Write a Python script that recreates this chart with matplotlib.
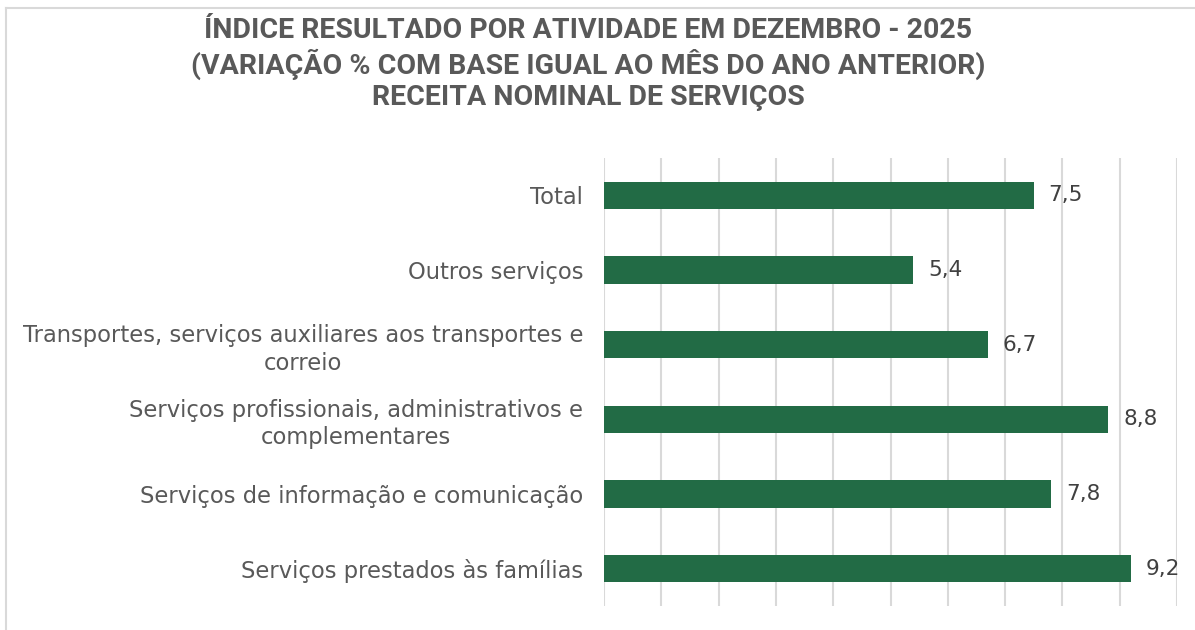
import matplotlib
matplotlib.use("Agg")
import matplotlib.pyplot as plt
from matplotlib.lines import Line2D

categories = [
    "Total",
    "Outros serviços",
    "Transportes, serviços auxiliares aos transportes e\ncorreio",
    "Serviços profissionais, administrativos e\ncomplementares",
    "Serviços de informação e comunicação",
    "Serviços prestados às famílias",
]
values = [7.5, 5.4, 6.7, 8.8, 7.8, 9.2]
title_lines = [
    "ÍNDICE RESULTADO POR ATIVIDADE EM DEZEMBRO - 2025",
    "(VARIAÇÃO % COM BASE IGUAL AO MÊS DO ANO ANTERIOR)",
    "RECEITA NOMINAL DE SERVIÇOS",
]

W, H = 1195, 630
fig = plt.figure(figsize=(W / 100, H / 100), dpi=100)
fig.patch.set_facecolor("white")

text_color = "#595959"
bar_color = "#226B45"
grid_color = "#D9D9D9"

# Plot area in pixels
left, right, top, bottom = 604, 1177, 158, 606
ax = fig.add_axes([left / W, 1 - bottom / H, (right - left) / W, (bottom - top) / H])

ypos = list(range(len(categories)))
ax.barh(ypos, values, height=0.37, color=bar_color, zorder=3)
ax.set_xlim(0, 10)
ax.set_ylim(len(categories) - 0.5, -0.5)
ax.set_xticks(range(0, 11))
ax.set_xticklabels([])
ax.tick_params(axis="x", length=0)
ax.tick_params(axis="y", length=0, pad=15)
ax.set_yticks(ypos)
ax.set_yticklabels(categories, fontsize=16.3, color=text_color, family="DejaVu Sans",
                   multialignment="center", linespacing=1.25)
ax.grid(axis="x", color=grid_color, linewidth=1.5, zorder=0)
for s in ax.spines.values():
    s.set_visible(False)

for y, v in zip(ypos, values):
    ax.text(v + 0.26, y, f"{v:.1f}".replace(".", ","), va="center", ha="left",
            fontsize=15.5, color="#404040", family="DejaVu Sans")

title = "\n".join(title_lines)
fig.text(588 / W, 1 - 64 / H, title, ha="center", va="center", fontsize=20.5,
         fontweight="bold", color=text_color, family=["Roboto", "DejaVu Sans"],
         linespacing=1.17)

# Border lines
fig.add_artist(Line2D([6 / W, 1], [1 - 8 / H, 1 - 8 / H], color=grid_color, linewidth=1.5))
fig.add_artist(Line2D([6 / W, 6 / W], [0, 1 - 8 / H], color=grid_color, linewidth=1.5))

fig.savefig("out.png", dpi=100, facecolor="white")
